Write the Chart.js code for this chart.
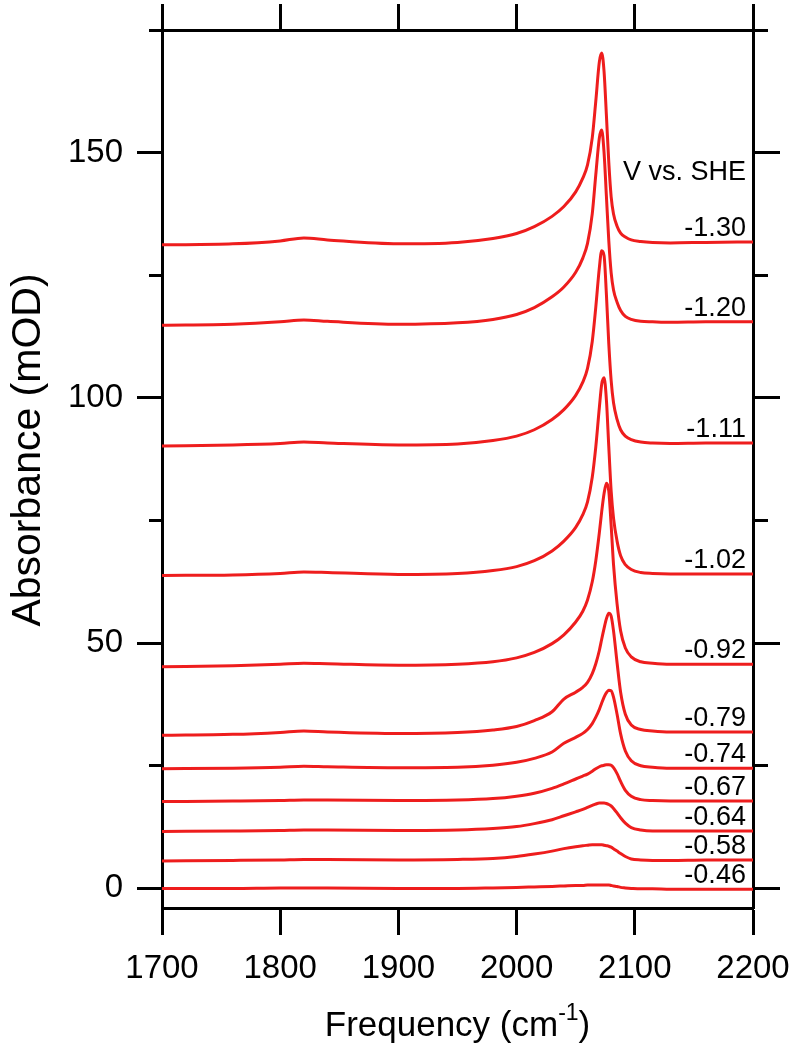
<!DOCTYPE html>
<html>
<head>
<meta charset="utf-8">
<script src="https://cdn.jsdelivr.net/npm/chart.js@4/dist/chart.umd.min.js"></script>
<style>
  html, body { margin: 0; padding: 0; background: #fff; overflow: hidden; }
  canvas { display: block; }
</style>
</head>
<body>
<canvas id="c" width="793" height="1053"></canvas>
<script>
// ---- data ----
const frequency = [1700, 1760, 1800, 1820, 1840, 1900, 1950, 1980, 2000, 2015, 2030, 2040, 2050, 2056, 2060, 2064, 2067, 2070, 2072, 2074, 2076, 2078, 2080, 2082, 2085, 2088, 2092, 2097, 2105, 2115, 2130, 2160, 2200];

const potentials = ['-1.30', '-1.20', '-1.11', '-1.02', '-0.92', '-0.79', '-0.74', '-0.67', '-0.64', '-0.58', '-0.46'];

const absM130 = [131.2, 131.4, 132.0, 132.6, 132.2, 131.4, 131.7, 132.5, 133.5, 134.9, 137.0, 139.0, 142.0, 144.8, 147.5, 153.0, 160.5, 168.5, 170.3, 166.5, 157.5, 148.0, 141.0, 137.5, 135.0, 133.6, 132.8, 132.2, 131.9, 131.7, 131.6, 131.7, 131.8];
const absM120 = [114.8, 115.0, 115.5, 115.9, 115.6, 115.0, 115.3, 116.0, 117.0, 118.4, 120.6, 122.6, 125.6, 128.5, 131.5, 137.5, 145.5, 153.0, 154.6, 150.0, 141.0, 132.0, 125.5, 122.0, 119.5, 117.8, 116.6, 116.0, 115.6, 115.5, 115.4, 115.5, 115.5];
const absM111 = [90.2, 90.4, 90.7, 91.0, 90.8, 90.4, 90.6, 91.3, 92.2, 93.5, 95.6, 97.6, 100.5, 103.2, 106.0, 111.5, 118.5, 126.5, 130.0, 129.0, 121.0, 111.0, 103.5, 99.0, 95.6, 93.5, 92.2, 91.5, 91.0, 90.8, 90.7, 90.8, 90.8];
const absM102 = [63.8, 63.9, 64.2, 64.5, 64.4, 64.0, 64.2, 64.8, 65.6, 66.8, 68.8, 70.8, 73.6, 76.2, 78.8, 83.8, 90.0, 98.0, 102.8, 104.1, 99.5, 90.0, 81.0, 75.5, 70.8, 67.8, 66.0, 65.0, 64.4, 64.2, 64.1, 64.1, 64.1];
const absM092 = [45.2, 45.4, 45.7, 45.9, 45.8, 45.5, 45.7, 46.2, 47.0, 48.1, 49.9, 51.7, 54.3, 56.5, 58.8, 62.5, 66.8, 72.5, 76.8, 80.5, 82.6, 81.0, 74.0, 66.0, 58.0, 52.5, 49.0, 47.2, 46.2, 45.9, 45.7, 45.7, 45.7];
const absM079 = [31.2, 31.4, 31.8, 32.1, 31.9, 31.6, 31.8, 32.3, 33.0, 34.2, 36.0, 38.6, 40.0, 41.0, 42.0, 43.8, 45.8, 48.5, 50.8, 53.0, 55.0, 56.1, 55.5, 52.5, 46.0, 40.0, 35.5, 33.3, 32.4, 32.1, 31.9, 31.9, 31.9];
const absM074 = [24.4, 24.5, 24.7, 24.9, 24.8, 24.6, 24.7, 25.1, 25.7, 26.5, 27.8, 29.6, 30.8, 31.6, 32.4, 33.6, 34.9, 36.5, 37.8, 39.0, 39.9, 40.4, 40.3, 39.0, 35.5, 31.5, 28.0, 26.0, 25.0, 24.7, 24.5, 24.5, 24.5];
const absM067 = [17.7, 17.8, 17.9, 18.0, 18.0, 17.9, 18.0, 18.3, 18.8, 19.4, 20.4, 21.3, 22.3, 22.9, 23.3, 23.9, 24.4, 24.8, 25.0, 25.1, 25.2, 25.2, 25.1, 24.6, 23.4, 21.8, 20.0, 18.8, 18.1, 17.9, 17.8, 17.8, 17.8];
const absM064 = [11.6, 11.7, 11.8, 11.9, 11.9, 11.8, 11.9, 12.2, 12.6, 13.2, 14.0, 14.8, 15.6, 16.1, 16.5, 16.9, 17.2, 17.4, 17.4, 17.4, 17.3, 17.1, 16.8, 16.3, 15.4, 14.4, 13.3, 12.4, 11.9, 11.7, 11.7, 11.7, 11.7];
const absM058 = [5.6, 5.7, 5.8, 5.9, 5.9, 5.8, 5.9, 6.1, 6.5, 7.0, 7.6, 8.1, 8.5, 8.7, 8.8, 8.9, 8.9, 8.9, 8.9, 8.8, 8.7, 8.6, 8.4, 8.1, 7.6, 7.1, 6.5, 6.0, 5.8, 5.7, 5.7, 5.8, 5.8];
const absM046 = [0.0, 0.0, 0.1, 0.1, 0.1, 0.0, 0.0, 0.1, 0.2, 0.3, 0.4, 0.5, 0.6, 0.6, 0.7, 0.7, 0.7, 0.7, 0.7, 0.7, 0.7, 0.7, 0.6, 0.5, 0.4, 0.2, 0.1, 0.0, -0.1, -0.1, -0.2, -0.2, -0.2];

const seriesValues = [absM130, absM120, absM111, absM102, absM092, absM079, absM074, absM067, absM064, absM058, absM046];

const xTickValues = [1700, 1800, 1900, 2000, 2100, 2200];
const yTickValues = [0, 50, 100, 150];
const yMinorTickValues = [25, 75, 125, 175];
const headerText = 'V vs. SHE';
const xTitle = 'Frequency (cm';
const xTitleSup = '-1';
const yTitle = 'Absorbance (mOD)';

// ---- styling / layout ----
const RED = '#ee1d1d';
const FONT = '"Liberation Sans", Arial, sans-serif';
const X_MIN = 1700, X_MAX = 2200, Y_MIN = -4, Y_MAX = 175;
const LABEL_X = 2194;      // right edge of potential labels (data units)
const HEADER_Y = 144.5;    // baseline of header (data units)

const datasets = seriesValues.map((vals, i) => ({
  label: potentials[i],
  data: vals.map((v, k) => ({ x: frequency[k], y: v })),
  borderColor: RED,
  borderWidth: 3,
  pointRadius: 0,
  fill: false,
  cubicInterpolationMode: 'monotone',
  borderJoinStyle: 'round',
  borderCapStyle: 'round'
}));

const axisLine = { display: true, color: '#000', width: 3 };

function gridFor(len) {
  return { drawOnChartArea: false, drawTicks: true, tickLength: len, tickWidth: 3, tickColor: '#000' };
}
function noPad(s) { s.paddingLeft = 0; s.paddingRight = 0; s.paddingTop = 0; s.paddingBottom = 0; }
const plain = (v) => String(v);

const textPlugin = {
  id: 'textPlugin',
  afterDatasetsDraw(chart) {
    const { ctx, scales } = chart;
    const x = scales.x, y = scales.y;
    ctx.save();
    ctx.fillStyle = '#000';
    ctx.textBaseline = 'alphabetic';
    // potential labels
    ctx.font = '27px ' + FONT;
    ctx.textAlign = 'right';
    chart.data.datasets.forEach((ds) => {
      const last = ds.data[ds.data.length - 1];
      ctx.fillText(ds.label, x.getPixelForValue(LABEL_X), y.getPixelForValue(last.y) - 6);
    });
    ctx.fillText(headerText, x.getPixelForValue(LABEL_X), y.getPixelForValue(HEADER_Y));

    // x title with superscript
    const cx = (chart.chartArea.left + chart.chartArea.right) / 2;
    const base = 1036;
    ctx.font = '35px ' + FONT;
    const w1 = ctx.measureText(xTitle).width;
    const w3 = ctx.measureText(')').width;
    ctx.font = '23px ' + FONT;
    const w2 = ctx.measureText(xTitleSup).width;
    let sx = cx - (w1 + w2 + w3) / 2;
    ctx.textAlign = 'left';
    ctx.font = '35px ' + FONT;
    ctx.fillText(xTitle, sx, base);
    sx += w1;
    ctx.font = '23px ' + FONT;
    ctx.fillText(xTitleSup, sx, base - 16);
    sx += w2;
    ctx.font = '35px ' + FONT;
    ctx.fillText(')', sx, base);

    // y title
    ctx.translate(40, 450);
    ctx.rotate(-Math.PI / 2);
    ctx.textAlign = 'center';
    ctx.font = '41px ' + FONT;
    ctx.fillText(yTitle, 0, 0);
    ctx.restore();
  }
};

new Chart(document.getElementById('c'), {
  type: 'line',
  data: { datasets },
  plugins: [textPlugin],
  options: {
    responsive: false,
    devicePixelRatio: 1,
    animation: false,
    events: [],
    layout: { padding: 0 },
    plugins: { legend: { display: false }, tooltip: { enabled: false }, title: { display: false } },
    scales: {
      x: {
        type: 'linear', position: 'bottom', min: X_MIN, max: X_MAX,
        afterBuildTicks: (s) => { s.ticks = xTickValues.map(v => ({ value: v })); },
        ticks: { color: '#000', font: { family: FONT, size: 33 }, padding: 14, maxRotation: 0, autoSkip: false, includeBounds: false, callback: plain },
        grid: gridFor(27),
        border: axisLine,
        afterFit: (s) => { s.height = 145; noPad(s); }
      },
      xTop: {
        type: 'linear', position: 'top', min: X_MIN, max: X_MAX,
        afterBuildTicks: (s) => { s.ticks = xTickValues.map(v => ({ value: v })); },
        ticks: { display: false },
        grid: gridFor(26),
        border: axisLine,
        afterFit: (s) => { s.height = 30; noPad(s); }
      },
      y: {
        type: 'linear', position: 'left', min: Y_MIN, max: Y_MAX, weight: 1,
        afterBuildTicks: (s) => { s.ticks = yTickValues.map(v => ({ value: v })); },
        ticks: { color: '#000', font: { family: FONT, size: 33 }, padding: 14, includeBounds: false, callback: plain },
        grid: gridFor(25),
        border: axisLine,
        afterFit: (s) => { s.width = 162; noPad(s); }
      },
      yMinor: {
        type: 'linear', position: 'left', min: Y_MIN, max: Y_MAX, weight: 0,
        afterBuildTicks: (s) => { s.ticks = yMinorTickValues.map(v => ({ value: v })); },
        ticks: { display: false },
        grid: gridFor(13),
        border: { display: false },
        afterFit: (s) => { s.width = 0; noPad(s); }
      },
      yRight: {
        type: 'linear', position: 'right', min: Y_MIN, max: Y_MAX, weight: 1,
        afterBuildTicks: (s) => { s.ticks = yTickValues.map(v => ({ value: v })); },
        ticks: { display: false },
        grid: gridFor(27),
        border: axisLine,
        afterFit: (s) => { s.width = 40; noPad(s); }
      },
      yRightMinor: {
        type: 'linear', position: 'right', min: Y_MIN, max: Y_MAX, weight: 0,
        afterBuildTicks: (s) => { s.ticks = yMinorTickValues.map(v => ({ value: v })); },
        ticks: { display: false },
        grid: gridFor(15),
        border: { display: false },
        afterFit: (s) => { s.width = 0; noPad(s); }
      }
    }
  }
});
</script>
</body>
</html>
